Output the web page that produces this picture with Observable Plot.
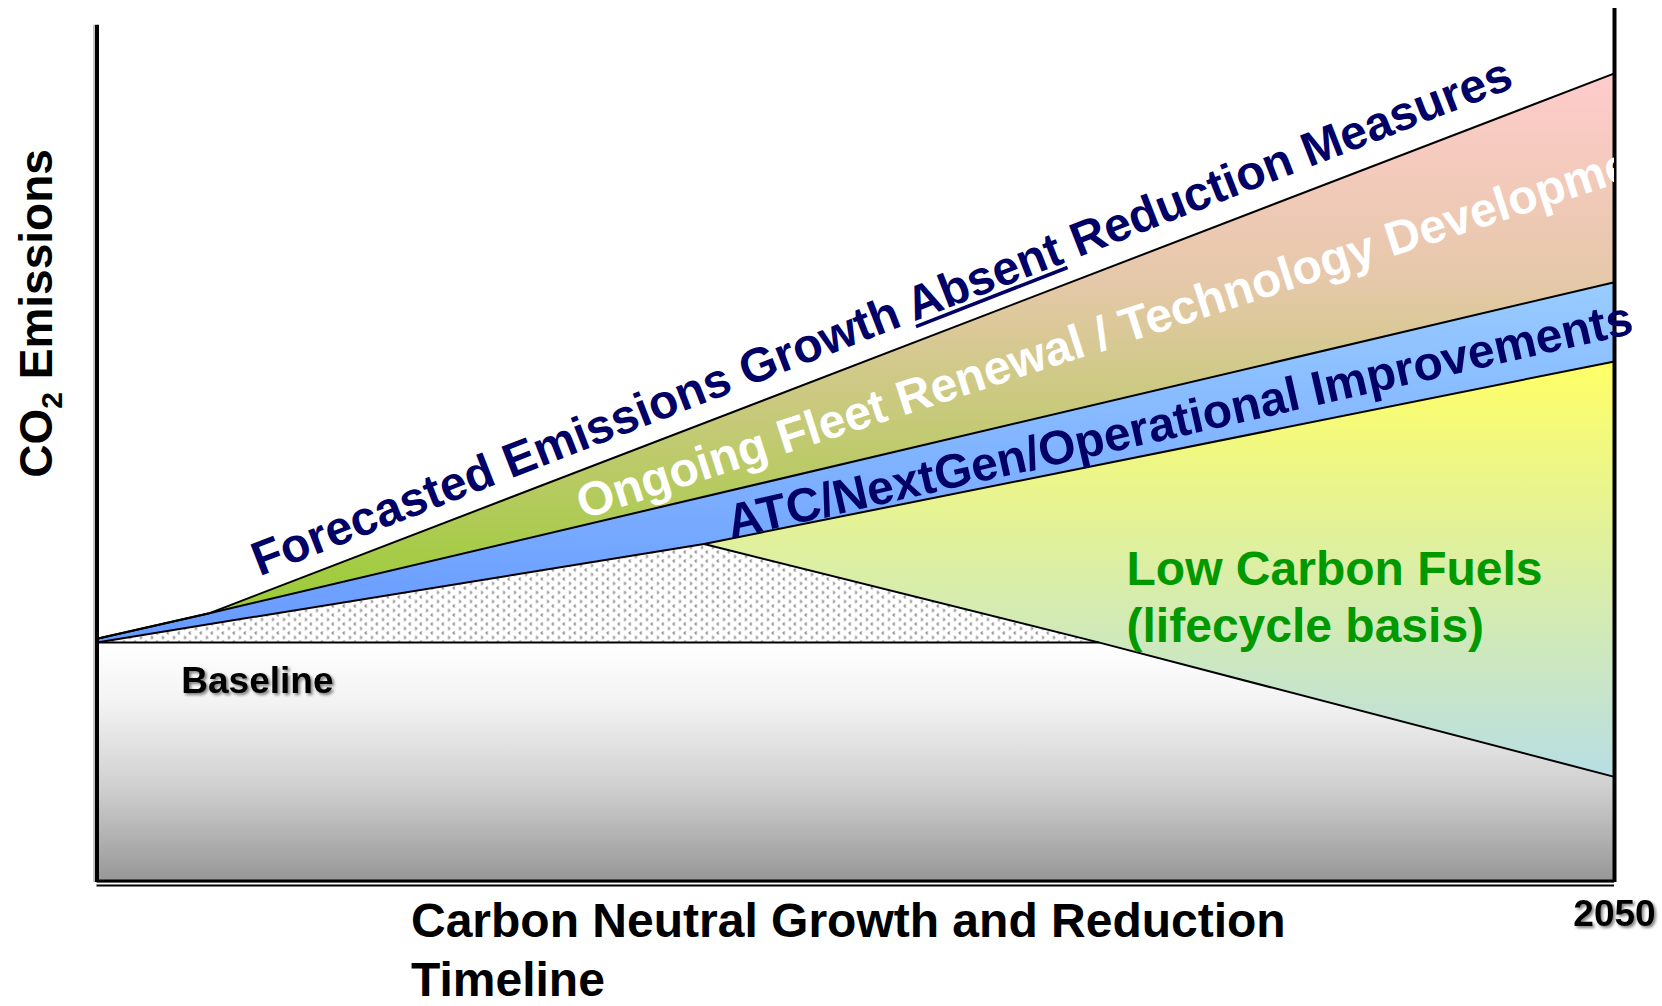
<!DOCTYPE html>
<html>
<head>
<meta charset="utf-8">
<script src="https://cdn.jsdelivr.net/npm/d3@7"></script>
<script src="https://cdn.jsdelivr.net/npm/@observablehq/plot@0.6"></script>
<style>
  body { margin: 0; background: #fff; }
  #chart { width: 1662px; height: 1006px; }
</style>
</head>
<body>
<div id="chart"></div>
<script>
// ---- data (x = timeline year, y = relative CO2 emissions) ----
const xDomain      = [2005, 2050];
const yDomain      = [0, 364];
const forecastYear = [2005, 2008.3, 2050];
const forecastCO2  = [101.5, 112, 337];
const fleetYear    = [2005, 2008.3, 2050];
const fleetCO2     = [101.5, 112, 250];
const atcYear      = [2005, 2023, 2050];
const atcCO2       = [100, 141, 217];
const fuelYear     = [2023, 2034.7, 2050];
const fuelCO2      = [141, 100, 44];
const baselineYear = [2005, 2034.7];
const baselineCO2  = [100, 100];
const floorCO2     = 0;
const leftAxisTop  = 357;
const rightAxisTop = 364;
const tickYears    = [2050];

const bandLabels = [
  {key: "forecast", text: "Forecasted Emissions Growth Absent Reduction Measures", year: 2009.82, co2: 127.4, angle: -21.3, color: "#000066"},
  {key: "fleet",    text: "Ongoing Fleet Renewal / Technology Development",         year: 2019.41, co2: 151.2, angle: -18,   color: "#ffffff"},
  {key: "atc",      text: "ATC/NextGen/Operational Improvements",                   year: 2023.8,  co2: 143.3, angle: -12.8, color: "#000066"}
];
const underlinedWord = "Absent";
const fuelLabel     = {text: "Low Carbon Fuels\n(lifecycle basis)", year: 2035.53, co2: 100};
const baselineLabel = {text: "Baseline", year: 2007.5, co2: 79.1};
const yTitle        = {text: "CO2 Emissions", year: 2005, co2: 237};
const xTitle        = "Carbon Neutral Growth and Reduction\nTimeline";

// ---- polygons built from the series ----
const pts = (xs, ys) => xs.map((x, i) => ({x, y: ys[i]}));
const forecast = pts(forecastYear, forecastCO2);
const fleet    = pts(fleetYear, fleetCO2);
const atc      = pts(atcYear, atcCO2);
const fuel     = pts(fuelYear, fuelCO2);
const baseline = pts(baselineYear, baselineCO2);

const growthPoly = [...forecast.slice(1), ...fleet.slice(1).reverse()];
const bluePoly   = [...fleet, ...atc.slice().reverse()];
const fuelPoly   = [...atc.slice(1), ...fuel.slice(1).reverse()];
const dotPoly    = [...atc.slice(0, 2), fuel[1]];
const grayPoly   = [...baseline, ...fuel.slice(2), {x: xDomain[1], y: floorCO2}, {x: xDomain[0], y: floorCO2}];

const FONT = "Liberation Sans, Arial, Helvetica, sans-serif";

const chart = Plot.plot({
  width: 1662,
  height: 1006,
  marginLeft: 96.5,
  marginRight: 48,
  marginTop: 8,
  marginBottom: 124,
  x: {domain: xDomain, axis: null},
  y: {domain: yDomain, axis: null},
  marks: [
    Plot.line(grayPoly,   {x: "x", y: "y", fill: "url(#gGray)",   stroke: "none"}),
    Plot.line(dotPoly,    {x: "x", y: "y", fill: "url(#pDots)",   stroke: "none"}),
    Plot.line(fuelPoly,   {x: "x", y: "y", fill: "url(#gFuel)",   stroke: "none"}),
    Plot.line(bluePoly,   {x: "x", y: "y", fill: "url(#gBlue)",   stroke: "none"}),
    Plot.line(growthPoly, {x: "x", y: "y", fill: "url(#gGrowth)", stroke: "none"}),
    Plot.line(forecast, {x: "x", y: "y", stroke: "black", strokeWidth: 2}),
    Plot.line(fleet,    {x: "x", y: "y", stroke: "black", strokeWidth: 2}),
    Plot.line(atc,      {x: "x", y: "y", stroke: "black", strokeWidth: 2}),
    Plot.line(fuel,     {x: "x", y: "y", stroke: "black", strokeWidth: 2}),
    Plot.line(baseline, {x: "x", y: "y", stroke: "black", strokeWidth: 2}),
    // frame
    Plot.ruleX([xDomain[0]], {y1: floorCO2, y2: leftAxisTop, stroke: "#c4c4c4", strokeWidth: 2, dx: -3}),
    Plot.ruleX([xDomain[0]], {y1: floorCO2, y2: leftAxisTop, stroke: "black", strokeWidth: 4}),
    Plot.ruleX([xDomain[1]], {y1: floorCO2, y2: rightAxisTop, stroke: "black", strokeWidth: 4}),
    Plot.ruleY([floorCO2], {x1: xDomain[0], x2: xDomain[1], stroke: "black", strokeWidth: 3, dy: -1.5}),
    Plot.ruleY([floorCO2], {x1: xDomain[0], x2: xDomain[1], stroke: "black", strokeWidth: 2, dy: 3}),
    // band labels
    ...bandLabels.map(d => Plot.text([d], {
      x: "year", y: "co2", text: "text", rotate: d.angle,
      textAnchor: "start", lineAnchor: "bottom",
      fontFamily: FONT, fontWeight: "bold", fontSize: 48, fill: d.color,
      clip: d.key === "fleet"
    })),
    Plot.text([fuelLabel], {
      x: "year", y: "co2", text: "text", textAnchor: "start", lineAnchor: "bottom",
      lineHeight: 1.19, fontFamily: FONT, fontWeight: "bold", fontSize: 48, fill: "#009900"
    }),
    Plot.text([baselineLabel], {
      x: "year", y: "co2", text: "text", textAnchor: "start", lineAnchor: "bottom",
      fontFamily: FONT, fontWeight: "bold", fontSize: 37, fill: "black"
    }),
    Plot.text([yTitle], {
      x: "year", y: "co2", text: "text", rotate: -90, dx: -59.5,
      textAnchor: "middle", lineAnchor: "middle",
      fontFamily: FONT, fontWeight: "bold", fontSize: 46, fill: "black"
    }),
    Plot.text(tickYears, {
      x: d => d, text: d => String(d), frameAnchor: "bottom", dy: 17, lineAnchor: "top",
      fontFamily: FONT, fontWeight: "bold", fontSize: 37, fill: "black"
    }),
    Plot.text([xTitle], {
      text: d => d, frameAnchor: "bottom-left", dx: 314, dy: 113,
      textAnchor: "start", lineAnchor: "bottom", lineHeight: 1.22,
      fontFamily: FONT, fontWeight: "bold", fontSize: 48, fill: "black"
    })
  ]
});

// ---- gradients and pattern, positioned with the chart's own y scale ----
const ys = chart.scale("y");
const svg = d3.select(chart);
const defs = svg.insert("defs", ":first-child");
function vGrad(id, yTop, yBottom, stops) {
  const g = defs.append("linearGradient").attr("id", id)
    .attr("gradientUnits", "userSpaceOnUse")
    .attr("x1", 0).attr("x2", 0)
    .attr("y1", ys.apply(yTop)).attr("y2", ys.apply(yBottom));
  stops.forEach(([o, c]) => g.append("stop").attr("offset", o).attr("stop-color", c));
}
vGrad("gGrowth", forecastCO2[2], forecastCO2[1], [[0, "#ffcccc"], [0.38, "#e6c8aa"], [1, "#99cc33"]]);
vGrad("gBlue", fleetCO2[2], atcCO2[0], [[0, "#99ccff"], [1, "#6699ff"]]);
vGrad("gFuel", atcCO2[2], fuelCO2[2], [[0, "#ffff66"], [1, "#b8dee4"]]);
vGrad("gGray", baselineCO2[0], floorCO2, [[0, "#ffffff"], [0.25, "#f3f3f3"], [0.6, "#d0d0d0"], [1, "#969696"]]);
const pat = defs.append("pattern").attr("id", "pDots")
  .attr("patternUnits", "userSpaceOnUse").attr("width", 11).attr("height", 9);
pat.append("rect").attr("width", 11).attr("height", 9).attr("fill", "#ffffff");
pat.append("path")
  .attr("d", "M2 1h1.3v1h-1.3zM1 2h1.3v1h-1.3zM2 3h1.3v1h-1.3zM7.5 5.5h1.3v1h-1.3zM8.5 6.5h1.3v1h-1.3zM7.5 7.5h1.3v1h-1.3z")
  .attr("fill", "#505050");

document.getElementById("chart").appendChild(chart);

// ---- text styling details (after the chart is in the page, so text can be measured) ----
const findText = s => svg.selectAll("text").filter(function() { return this.textContent === s; });

const ft = findText(bandLabels[0].text);
if (!ft.empty()) {
  const node = ft.node();
  const i = bandLabels[0].text.indexOf(underlinedWord);
  const x0 = i > 0 ? node.getSubStringLength(0, i) : 0;
  const w = node.getSubStringLength(i, underlinedWord.length);
  d3.select(node.parentNode).append("line")
    .attr("transform", node.getAttribute("transform"))
    .attr("x1", x0).attr("x2", x0 + w).attr("y1", 5.5).attr("y2", 5.5)
    .attr("stroke", bandLabels[0].color).attr("stroke-width", 3.6);
}

const yt = findText(yTitle.text);
if (!yt.empty()) {
  yt.text(null).style("white-space", "pre");
  yt.append("tspan").text("CO");
  yt.append("tspan").text("2").attr("font-size", "30").attr("dy", "10");
  yt.append("tspan").text(" Emissions").attr("dy", "-10");
}

findText(baselineLabel.text).style("filter", "drop-shadow(2px 2px 1.5px rgba(0,0,0,0.5))");
findText(String(tickYears[0])).style("filter", "drop-shadow(2px 2px 1.5px rgba(0,0,0,0.5))");
</script>
</body>
</html>
